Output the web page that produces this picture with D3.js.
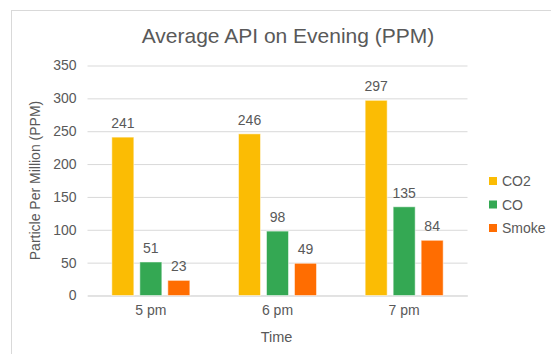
<!DOCTYPE html>
<html><head><meta charset="utf-8">
<script src="https://cdn.jsdelivr.net/npm/d3@7"></script>
<style>body{margin:0;background:#fff}svg{display:block}text{font-family:"Liberation Sans",Arial,sans-serif;fill:#595959}</style>
</head><body><svg id="c" width="551" height="354"></svg>
<script>
const categories = ["5 pm", "6 pm", "7 pm"];
const seriesNames = ["CO2", "CO", "Smoke"];
const co2 = [241, 246, 297];
const co = [51, 98, 135];
const smoke = [23, 49, 84];
const yTicks = [0, 50, 100, 150, 200, 250, 300, 350];
const colors = ["#FBBC04", "#34A853", "#FF6D01"];
const seriesValues = [co2, co, smoke];
const FONT = '"Liberation Sans",Arial,sans-serif';

const svg = d3.select("#c");
const m = {l: 87.5, r: 467.5, t: 65.5, b: 295.5};

svg.append("rect").attr("x", 11.5).attr("y", 10.5).attr("width", 560).attr("height", 400)
  .attr("fill", "#fff").attr("stroke", "#d9d9d9");

const x0 = d3.scaleBand().domain(categories).range([m.l, m.r]).paddingInner(0).paddingOuter(0);
const y = d3.scaleLinear().domain([0, 350]).range([m.b, m.t]);
const barW = 22, gap = 6;
const x1 = d3.scaleBand().domain(seriesNames).range([0, 3 * barW + 2 * gap]).paddingInner(gap / (barW + gap)).paddingOuter(0);

// grid
const gy = svg.append("g").attr("transform", `translate(${m.l},0)`)
  .call(d3.axisLeft(y).tickValues(yTicks).tickSize(-(m.r - m.l)).tickFormat(d => d).tickPadding(11));
gy.select(".domain").remove();
gy.selectAll(".tick line").attr("stroke", "#d9d9d9").attr("stroke-width", 1);
gy.selectAll(".tick text").attr("font-size", 14).attr("fill", "#595959").style("font-family", FONT);

// x axis
const gx = svg.append("g").attr("transform", `translate(0,${m.b})`)
  .call(d3.axisBottom(x0).tickSize(0).tickPadding(10));
gx.select(".domain").attr("stroke", "#d9d9d9");
gx.selectAll(".tick text").attr("font-size", 14).attr("fill", "#595959").style("font-family", FONT);

// bars
const groups = svg.append("g").selectAll("g").data(categories).join("g")
  .attr("transform", d => `translate(${x0(d) + (x0.bandwidth() - x1.range()[1]) / 2},0)`);
groups.selectAll("rect").data((d, i) => seriesNames.map((s, j) => ({s, j, v: seriesValues[j][i]}))).join("rect")
  .attr("x", d => x1(d.s)).attr("width", x1.bandwidth())
  .attr("y", d => y(d.v)).attr("height", d => y(0) - y(d.v))
  .attr("fill", d => colors[d.j]).attr("stroke", "#ffffff").attr("stroke-opacity", 0.5).attr("stroke-width", 1);
groups.selectAll("text").data((d, i) => seriesNames.map((s, j) => ({s, j, v: seriesValues[j][i]}))).join("text")
  .attr("x", d => x1(d.s) + x1.bandwidth() / 2).attr("y", d => y(d.v) - 9)
  .attr("text-anchor", "middle").attr("font-size", 14).text(d => d.v);

// title
svg.append("text").attr("x", 288).attr("y", 43).attr("text-anchor", "middle").attr("font-size", 21).text("Average API on Evening (PPM)");
// axis titles
svg.append("text").attr("x", (m.l + m.r) / 2 - 1).attr("y", 342).attr("text-anchor", "middle").attr("font-size", 14.5).text("Time");
svg.append("text").attr("transform", `translate(40,${(m.t + m.b) / 2}) rotate(-90)`).attr("text-anchor", "middle").attr("font-size", 14).text("Particle Per Million (PPM)");

// legend
const lg = svg.append("g").selectAll("g").data(seriesNames).join("g")
  .attr("transform", (d, i) => `translate(489,${181 + i * 23.5})`);
lg.append("rect").attr("x", 0).attr("y", -4).attr("width", 8).attr("height", 8).attr("fill", (d, i) => colors[i]);
lg.append("text").attr("x", 13).attr("y", 5).attr("font-size", 14).text(d => d);
</script></body></html>
